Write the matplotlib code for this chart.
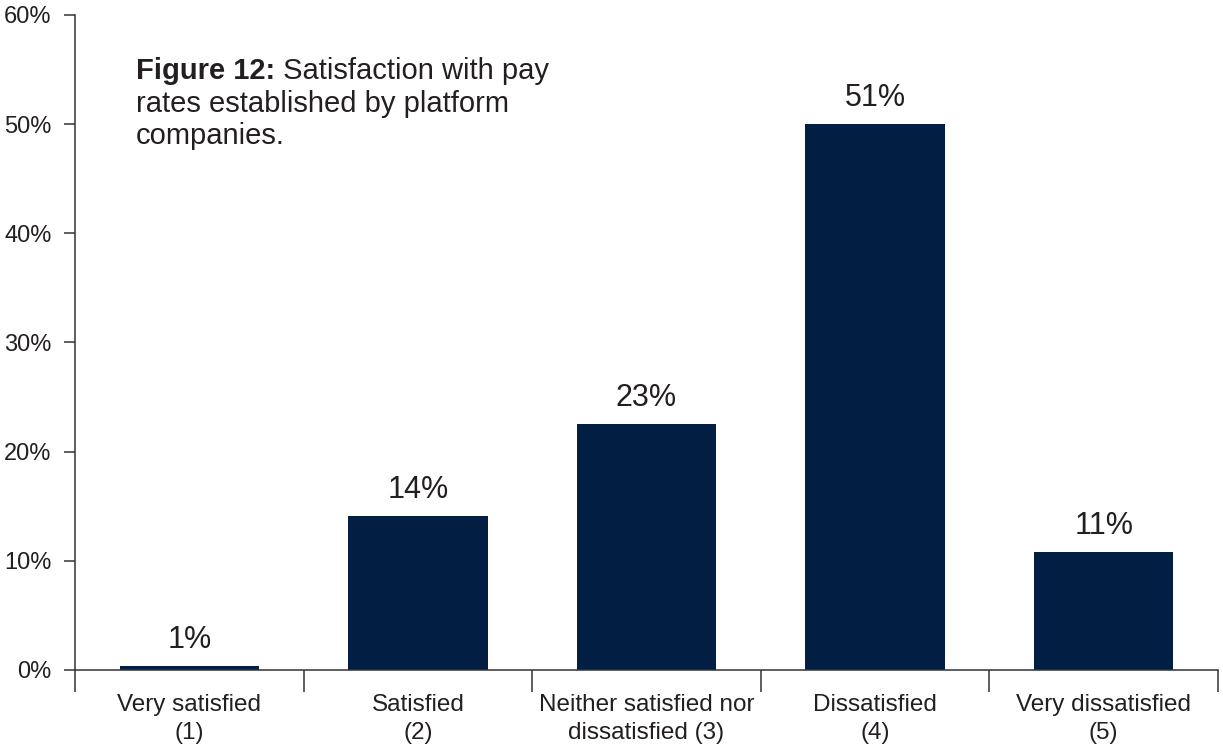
import matplotlib
matplotlib.use('Agg')
from matplotlib import pyplot as plt
import numpy as np

font = {'family': 'Liberation Sans', 'size': 16}
matplotlib.rc('font', **font)

# data
categories = ['Very satisfied\n(1)', 'Satisfied\n(2)', 'Neither satisfied nor\ndissatisfied (3)',
              'Dissatisfied\n(4)', 'Very dissatisfied\n(5)']
values = [0.4, 14.1, 22.5, 50.0, 10.8]
value_labels = ['1%', '14%', '23%', '51%', '11%']
y_ticks = [0, 10, 20, 30, 40, 50, 60]

bar_color = '#021e42'
text_color = '#231f20'
axis_color = '#333333'

W, H = 1223, 749
fig = plt.figure(figsize=(W / 100, H / 100), dpi=100)
ax = fig.add_axes([75 / W, 1 - 670 / H, (1218 - 75) / W, (670 - 15) / H])

x = np.arange(len(categories))
ax.bar(x, values, width=0.61, color=bar_color, zorder=2)

for xi, v, lab in zip(x, values, value_labels):
    ax.annotate(lab, xy=(xi, v), xytext=(0, 8), textcoords='offset points',
                ha='center', va='bottom', fontsize=22, color=text_color)

ax.set_xlim(-0.5, len(categories) - 0.5)
ax.set_ylim(0, 60)

ax.set_yticks(y_ticks)
ax.set_yticklabels([f'{t}%' for t in y_ticks])
ax.tick_params(axis='y', direction='out', length=8, width=1.1, color=axis_color,
               labelcolor=text_color, labelsize=17, pad=9)

ax.set_xticks(x)
ax.set_xticklabels(categories)
ax.set_xticks(np.arange(len(categories) + 1) - 0.5, minor=True)
ax.tick_params(axis='x', which='major', length=0, pad=17, labelsize=17.5, labelcolor=text_color)
ax.tick_params(axis='x', which='minor', direction='out', length=16, width=1.1, color=axis_color)
for t in ax.get_xticklabels():
    t.set_linespacing(1.35)

for side in ['top', 'right']:
    ax.spines[side].set_visible(False)
for side in ['left', 'bottom']:
    ax.spines[side].set_color(axis_color)
    ax.spines[side].set_linewidth(1.1)

# caption inside the plot area, bold prefix then regular text
t1 = fig.text(136 / W, 1 - 79 / H, 'Figure 12:', fontsize=21, fontweight='bold',
              color=text_color, va='baseline', ha='left')
fig.canvas.draw()
bb = t1.get_window_extent()
fig.text(bb.x1 / W, 1 - 79 / H, ' Satisfaction with pay', fontsize=21,
         color=text_color, va='baseline', ha='left')
fig.text(136 / W, 1 - 112 / H, 'rates established by platform', fontsize=21,
         color=text_color, va='baseline', ha='left')
fig.text(136 / W, 1 - 144 / H, 'companies.', fontsize=21,
         color=text_color, va='baseline', ha='left')

fig.savefig('out.png', dpi=100)
